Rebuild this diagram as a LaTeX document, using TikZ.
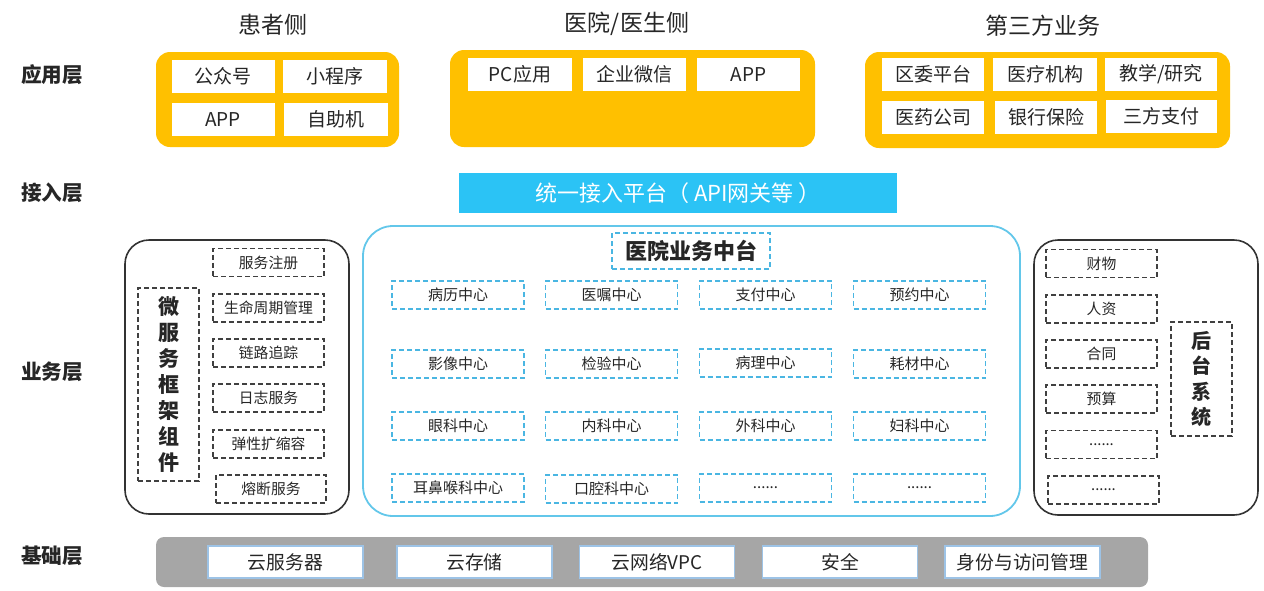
\documentclass[tikz,border=0pt]{standalone}
\usepackage{fontspec}
\setmainfont{Noto Sans CJK SC}
\usepackage{tikz}

\definecolor{appyellow}{HTML}{FFC000}
\definecolor{apicyan}{HTML}{2BC3F5}
\definecolor{midcyan}{HTML}{63C7EA}
\definecolor{dashcyan}{HTML}{4AB6E2}
\definecolor{basegray}{HTML}{A6A6A6}
\definecolor{baseblue}{HTML}{9DC3E6}
\definecolor{txt}{HTML}{262626}

\tikzset{
	layerlbl/.style={font=\bfseries\fontsize{10.3}{12}\selectfont, text=txt},
	sidelbl/.style={font=\fontsize{11.5}{13}\selectfont, text=txt},
	wbox/.style={fill=white, minimum width=#1, minimum height=16.5pt, inner sep=0pt, text=txt, font=\fontsize{9.5}{11}\selectfont},
	gdash/.style={draw=black!75, dash pattern=on 2.5pt off 1.5pt, line width=0.6pt, minimum width=#1, minimum height=14pt, inner sep=0pt, text=txt, font=\fontsize{7.4}{9}\selectfont},
	cdash/.style={draw=dashcyan, dash pattern=on 2.5pt off 1.5pt, line width=0.7pt, minimum width=66pt, minimum height=14pt, inner sep=0pt, text=txt, font=\fontsize{7.5}{9}\selectfont},
	basebox/.style={fill=white, draw=baseblue, line width=0.6pt, minimum width=77.5pt, minimum height=16pt, inner sep=0pt, text=txt, font=\fontsize{9.4}{11}\selectfont},
	vlbl/.style={draw=black!75, dash pattern=on 2.5pt off 1.5pt, line width=0.6pt, align=center, inner sep=0pt, text=txt, font=\bfseries\fontsize{10.5}{13}\selectfont}
}

\begin{document}
\begin{tikzpicture}[x=0.5pt,y=-0.5pt]
		\useasboundingbox (0,0) rectangle (1264,590);
		%
		\node[sidelbl] (hz) at (273,25) {患者侧};
		\node[sidelbl] (yy) at (627,24) {医院/医生侧};
		\node[sidelbl] (dsf) at (1043,26) {第三方业务};
		\node[layerlbl] (yyc) at (52,75) {应用层};
		\node[layerlbl] (jrc) at (52,193) {接入层};
		\node[layerlbl] (ywc) at (52,372) {业务层};
		\node[layerlbl] (jcc) at (52,556) {基础层};
		%
		\fill[appyellow, rounded corners=7pt] (156,52) rectangle (399,147);
		\node[wbox=51.5pt] (gzh) at (223,76.5) {公众号};
		\node[wbox=52pt] (xcx) at (334.5,76.5) {小程序};
		\node[wbox=51.5pt] (app1) at (223,119.5) {APP};
		\node[wbox=52pt] (zzj) at (335.5,119.5) {自助机};
		%
		\fill[appyellow, rounded corners=7pt] (450,50) rectangle (815,147);
		\node[wbox=52pt] (pc) at (520,74.5) {PC应用};
		\node[wbox=51.5pt] (qywx) at (634.5,74.5) {企业微信};
		\node[wbox=51.5pt] (app2) at (748.5,74.5) {APP};
		%
		\fill[appyellow, rounded corners=7pt] (865,52) rectangle (1230,148);
		\node[wbox=51pt] (qw) at (933,74.5) {区委平台};
		\node[wbox=52pt] (yljg) at (1045,74.5) {医疗机构};
		\node[wbox=56pt] (jx) at (1161,74.5) {教学/研究};
		\node[wbox=51pt] (yygs) at (933,117.5) {医药公司};
		\node[wbox=51pt] (yhbx) at (1046,117.5) {银行保险};
		\node[wbox=55.5pt] (sfzf) at (1161.5,116) {三方支付};
		%
		\node[fill=apicyan, minimum width=219pt, minimum height=20pt, inner sep=0pt, text=white, font=\fontsize{11}{13}\selectfont] (api) at (678,193) {统一接入平台（ API网关等 ）};
		%
		\draw[black!80, line width=0.8pt, rounded corners=12pt] (125,240) rectangle (349,514);
		\node[vlbl, minimum width=30.5pt, minimum height=96.5pt] (wfw) at (168.5,384.5) {微\\服\\务\\框\\架\\组\\件};
		\node[gdash=55.5pt] (fwzc) at (268.5,262.5) {服务注册};
		\node[gdash=55.5pt] (smzq) at (268.5,308) {生命周期管理};
		\node[gdash=55.5pt] (llzz) at (268.5,353) {链路追踪};
		\node[gdash=55.5pt] (rzfw) at (268.5,398) {日志服务};
		\node[gdash=55.5pt] (txks) at (268.5,444) {弹性扩缩容};
		\node[gdash=55pt] (rdfw) at (271,489) {熔断服务};
		%
		\draw[midcyan, line width=0.9pt, rounded corners=15pt] (363,226) rectangle (1020,516);
		\node[cdash, minimum width=79pt, minimum height=18pt, font=\bfseries\fontsize{11}{13}\selectfont] (zt) at (691,251) {医院业务中台};
		\node[cdash] (blzx) at (458,295) {病历中心};
		\node[cdash] (yzzx) at (611.5,295) {医嘱中心};
		\node[cdash] (zfzx) at (765.5,295) {支付中心};
		\node[cdash] (yyzx) at (919.5,295) {预约中心};
		\node[cdash] (yxzx) at (458,364) {影像中心};
		\node[cdash] (jyzx) at (611.5,364) {检验中心};
		\node[cdash] (blzx2) at (765.5,363) {病理中心};
		\node[cdash] (hczx) at (919.5,364) {耗材中心};
		\node[cdash] (ykzx) at (458,426) {眼科中心};
		\node[cdash] (nkzx) at (611.5,426) {内科中心};
		\node[cdash] (wkzx) at (765.5,426) {外科中心};
		\node[cdash] (fkzx) at (919.5,426) {妇科中心};
		\node[cdash] (ebhzx) at (458,488) {耳鼻喉科中心};
		\node[cdash] (kqzx) at (611.5,489) {口腔科中心};
		\node[cdash] (more1) at (765.5,488) {......};
		\node[cdash] (more2) at (919.5,488) {......};
		%
		\draw[black!80, line width=0.8pt, rounded corners=12pt] (1034,240) rectangle (1258,515);
		\node[gdash=55.5pt] (cw) at (1101.5,263.5) {财物};
		\node[gdash=55.5pt] (rz) at (1101.5,309) {人资};
		\node[gdash=55.5pt] (ht) at (1101.5,354) {合同};
		\node[gdash=55.5pt] (ys) at (1101.5,399) {预算};
		\node[gdash=55.5pt] (more3) at (1101.5,444.5) {......};
		\node[gdash=55.5pt] (more4) at (1103.5,490) {......};
		\node[vlbl, minimum width=30.5pt, minimum height=57pt, font=\bfseries\fontsize{10}{12.75}\selectfont] (htxt) at (1201.5,379) {后\\台\\系\\统};
		%
		\fill[basegray, rounded corners=4pt] (156,537) rectangle (1148,587);
		\node[basebox] (yfwq) at (285.5,562) {云服务器};
		\node[basebox] (yccu) at (474.5,562) {云存储};
		\node[basebox] (ywl) at (657,562) {云网络VPC};
		\node[basebox] (aq) at (840,562) {安全};
		\node[basebox] (sf) at (1022.5,562) {身份与访问管理};
	\end{tikzpicture}
\end{document}
